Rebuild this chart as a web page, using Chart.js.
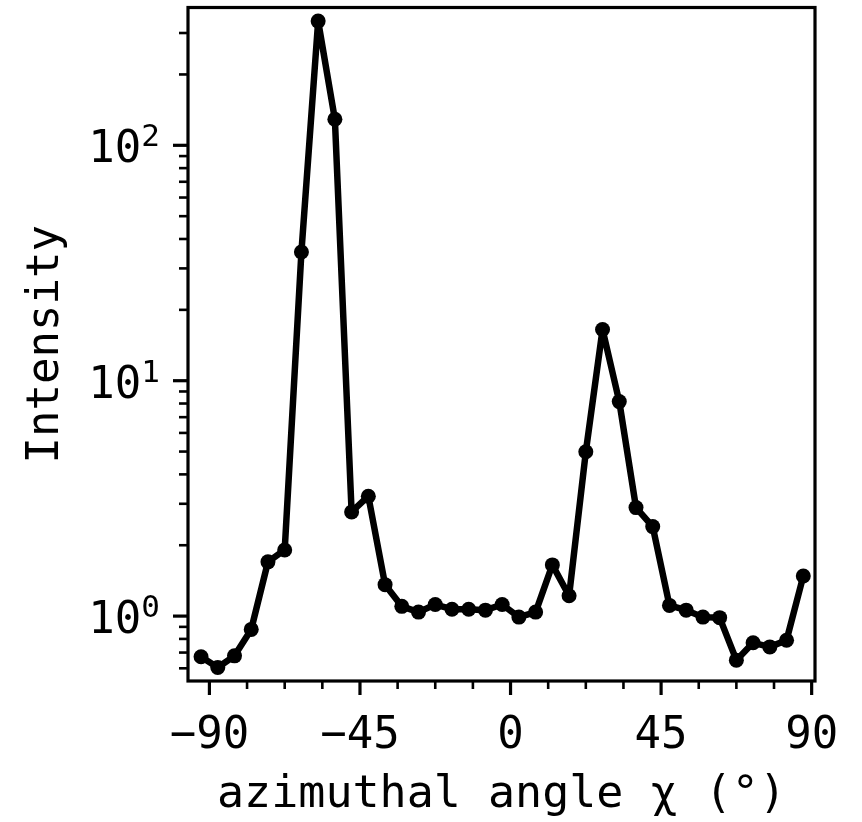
<!DOCTYPE html>
<html><head><meta charset="utf-8">
<script src="https://cdn.jsdelivr.net/npm/chart.js@4/dist/chart.umd.min.js"></script>
<style>html,body{margin:0;padding:0;background:#fff}#wrap{width:862px;height:822px;position:relative}</style>
</head><body><div id="wrap"><canvas id="c"></canvas></div>
<script>
const angles = [-92.5,-87.5,-82.5,-77.5,-72.5,-67.5,-62.5,-57.5,-52.5,-47.5,-42.5,-37.5,-32.5,-27.5,-22.5,-17.5,-12.5,-7.5,-2.5,2.5,7.5,12.5,17.5,22.5,27.5,32.5,37.5,42.5,47.5,52.5,57.5,62.5,67.5,72.5,77.5,82.5,87.5];
const intensity = [0.672,0.605,0.678,0.878,1.70,1.91,35.2,337,129,2.77,3.23,1.36,1.10,1.04,1.12,1.07,1.07,1.06,1.12,0.99,1.04,1.65,1.22,4.99,16.5,8.15,2.89,2.40,1.11,1.06,0.99,0.985,0.65,0.77,0.74,0.79,1.48];
const xMajorTicks = [-90,-45,0,45,90];
const xMajorLabels = ['\u221290','\u221245','0','45','90'];
const xMinorTicks = [-78.75,-67.5,-56.25,-33.75,-22.5,-11.25,11.25,22.5,33.75,56.25,67.5,78.75];
const yMajorTicks = [1,10,100];
const yLabelBase = ['10','10','10'];
const yLabelExp = ['0','1','2'];
const yMinorTicks = [0.6,0.7,0.8,0.9,2,3,4,5,6,7,8,9,20,30,40,50,60,70,80,90,200,300];
const xLimits = [-96.4, 91.0];
const yLimits = [0.53, 385];
const xTitle = 'azimuthal angle \u03c7 (\u00b0)';
const yTitle = 'Intensity';

const FONT = 'DejaVu Sans Mono';

const framePlugin = {
  id: 'frame',
  afterDraw(chart) {
    const ctx = chart.ctx, a = chart.chartArea;
    const xs = chart.scales.x, ys = chart.scales.y;
    ctx.save();
    ctx.strokeStyle = '#000';
    ctx.lineCap = 'butt';
    const drawX = (vals, len, w) => {
      ctx.lineWidth = w;
      vals.forEach(v => {
        const p = xs.getPixelForValue(v);
        ctx.beginPath(); ctx.moveTo(p, a.bottom); ctx.lineTo(p, a.bottom + len); ctx.stroke();
      });
    };
    const drawY = (vals, len, w) => {
      ctx.lineWidth = w;
      vals.forEach(v => {
        const p = ys.getPixelForValue(v);
        ctx.beginPath(); ctx.moveTo(a.left, p); ctx.lineTo(a.left - len, p); ctx.stroke();
      });
    };
    drawX(xMajorTicks, 14, 3.2); drawX(xMinorTicks, 8, 2.6);
    drawY(yMajorTicks, 15, 3.2); drawY(yMinorTicks, 9, 2.6);
    ctx.lineWidth = 3.2;
    ctx.strokeRect(a.left, a.top, a.right - a.left, a.bottom - a.top);
    // y tick labels: base with raised exponent
    ctx.fillStyle = '#000';
    ctx.textBaseline = 'alphabetic';
    ctx.textAlign = 'left';
    yMajorTicks.forEach((v, i) => {
      const p = ys.getPixelForValue(v);
      ctx.font = '44px "' + FONT + '"';
      const wb = ctx.measureText(yLabelBase[i]).width;
      ctx.font = '31px "' + FONT + '"';
      const we = ctx.measureText(yLabelExp[i]).width;
      const x0 = a.left - 28 - wb - we;
      ctx.font = '44px "' + FONT + '"';
      ctx.fillText(yLabelBase[i], x0, p + 17);
      ctx.font = '31px "' + FONT + '"';
      ctx.fillText(yLabelExp[i], x0 + wb, p + 1);
    });
    ctx.restore();
  }
};

new Chart(document.getElementById('c'), {
  type: 'line',
  data: {
    datasets: [{
      data: angles.map((x, i) => ({x: x, y: intensity[i]})),
      borderColor: '#000',
      backgroundColor: '#000',
      borderWidth: 6.5,
      borderJoinStyle: 'round',
      pointRadius: 7.5,
      pointBorderWidth: 0,
      pointBackgroundColor: '#000',
      tension: 0,
      fill: false
    }]
  },
  options: {
    responsive: true,
    maintainAspectRatio: false,
    animation: false,
    layout: {padding: {top: 7, right: 47, left: 0, bottom: 0}},
    plugins: {legend: {display: false}, tooltip: {enabled: false}},
    scales: {
      x: {
        type: 'linear', min: xLimits[0], max: xLimits[1],
        grid: {display: false}, border: {display: false},
        afterBuildTicks: s => { s.ticks = xMajorTicks.map(v => ({value: v})); },
        afterFit: s => { s.height = 141; s.paddingLeft = 0; s.paddingRight = 0; },
        ticks: {
          color: '#000', font: {family: FONT, size: 44}, padding: 21, maxRotation: 0, autoSkip: false,
          callback: v => xMajorLabels[xMajorTicks.indexOf(v)]
        },
        title: {display: true, text: xTitle, color: '#000', font: {family: FONT, size: 45}, padding: {top: 0, bottom: 0}}
      },
      y: {
        type: 'logarithmic', min: yLimits[0], max: yLimits[1],
        grid: {display: false}, border: {display: false},
        afterBuildTicks: s => { s.ticks = yMajorTicks.map(v => ({value: v, major: true})); },
        afterFit: s => { s.width = 188; s.paddingTop = 0; s.paddingBottom = 0; },
        ticks: {display: false},
        title: {display: true, text: yTitle, color: '#000', font: {family: FONT, size: 44}, padding: {top: 20, bottom: 0}}
      }
    }
  },
  plugins: [framePlugin]
});
</script></body></html>
